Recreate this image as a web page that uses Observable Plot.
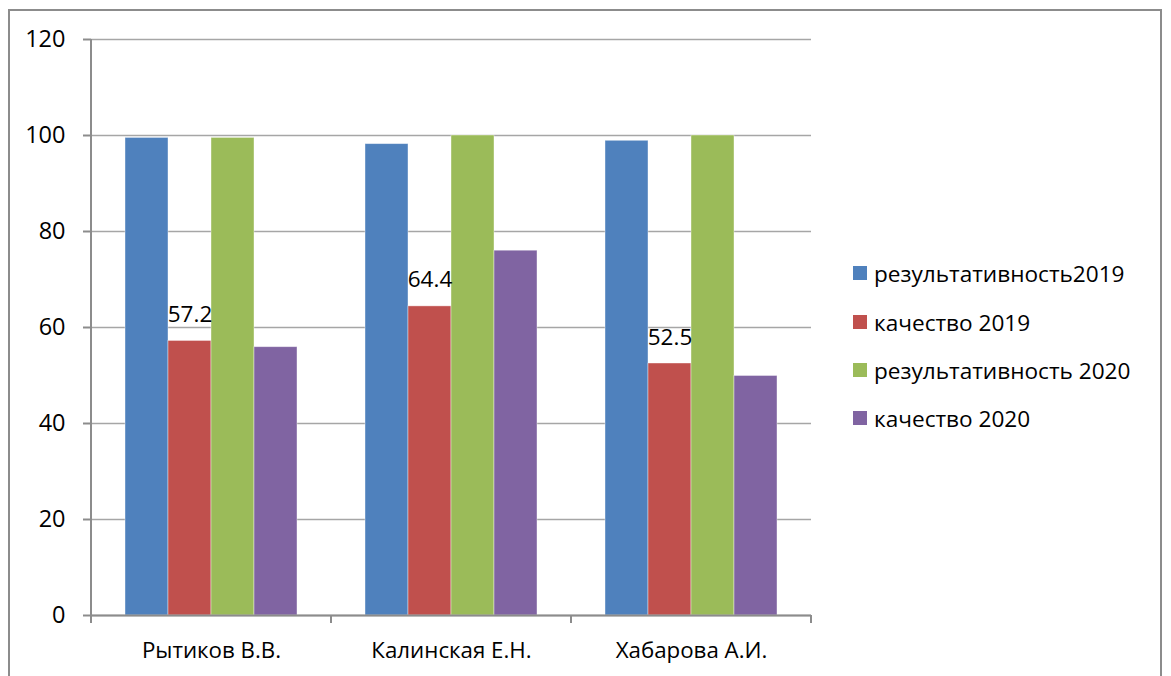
<!DOCTYPE html>
<html>
<head>
<meta charset="utf-8">
<script src="https://cdn.jsdelivr.net/npm/d3@7"></script>
<script src="https://cdn.jsdelivr.net/npm/@observablehq/plot@0.6"></script>
<style>
  html, body { margin: 0; padding: 0; background: #fff; }
  body { width: 1171px; height: 676px; position: relative; overflow: hidden; font-family: "Open Sans", sans-serif; }
  #frame { position: absolute; left: 8px; top: 9px; width: 1154px; height: 700px; border: 2px solid #8c8c8c; box-sizing: border-box; }
  #chart { position: absolute; left: 0; top: 0; }
  #legend { position: absolute; left: 853px; top: 0; }
  .item { position: absolute; left: 0; display: flex; align-items: center; white-space: nowrap; font-size: 22.6px; color: #000; }
  .sw { width: 14px; height: 14px; margin-right: 7px; flex: none; }
</style>
</head>
<body>
<div id="frame"></div>
<div id="chart"></div>
<div id="legend"></div>
<script>
const categories = ["Рытиков В.В.", "Калинская Е.Н.", "Хабарова А.И."];
const seriesNames = ["результативность2019", "качество 2019", "результативность 2020", "качество 2020"];
const seriesColors = ["#4F81BD", "#C0504D", "#9BBB59", "#8064A2"];
const result2019 = [99.5, 98.2, 98.9];
const quality2019 = [57.2, 64.4, 52.5];
const result2020 = [99.5, 100, 100];
const quality2020 = [55.9, 76, 49.9];
const yTicks = [0, 20, 40, 60, 80, 100, 120];
const labeledSeries = ["качество 2019"];

const seriesValues = [result2019, quality2019, result2020, quality2020];
const rows = [];
categories.forEach((c, i) => {
  seriesNames.forEach((s, j) => {
    rows.push({cat: c, series: s, value: seriesValues[j][i]});
  });
});

const FONT = "Open Sans, sans-serif";
const plot = Plot.plot({
  width: 1171,
  height: 676,
  marginLeft: 91,
  marginRight: 360,
  marginTop: 39,
  marginBottom: 61,
  style: {fontFamily: FONT, fontSize: "22px", color: "#000", background: "transparent", overflow: "visible"},
  fx: {domain: categories, padding: 0, label: null},
  x: {domain: seriesNames, paddingInner: 0, paddingOuter: 0.76, axis: null},
  y: {domain: [0, 120], label: null},
  color: {domain: seriesNames, range: seriesColors},
  marks: [
    Plot.gridY(yTicks, {stroke: "#a6a6a6", strokeOpacity: 1, strokeWidth: 1.6}),
    Plot.barY(rows, {fx: "cat", x: "series", y: "value", fill: "series", stroke: "#fff", strokeWidth: 0.8, strokeOpacity: 0.5}),
    Plot.ruleY([0], {stroke: "#8c8c8c", strokeWidth: 2}),
    Plot.text(rows.filter(d => labeledSeries.includes(d.series)), {
      fx: "cat", x: "series", y: "value", text: d => d.value.toFixed(1),
      lineAnchor: "bottom", dy: -19, fontSize: 22.5, fill: "#000"
    }),
    Plot.axisY(yTicks, {tickSize: 8, tickPadding: 18, stroke: "#8c8c8c", strokeWidth: 2, fontSize: 23.5, label: null, tickFormat: d => String(d)}),
    Plot.axisFx({anchor: "bottom", tickSize: 0, tickPadding: 27, fontSize: 22.3, label: null})
  ]
});
document.getElementById("chart").appendChild(plot);

// axis line and category boundary ticks, placed from Plot's own scales
const fx = plot.scale("fx");
const y = plot.scale("y");
const svg = d3.select(plot);
const g = svg.append("g").attr("stroke", "#8c8c8c").attr("stroke-width", 2);
const left = fx.apply(categories[0]);
const y0 = y.apply(0), yTop = y.apply(120);
g.append("line").attr("x1", left).attr("x2", left).attr("y1", yTop).attr("y2", y0 + 8);
const edges = categories.map(c => fx.apply(c)).concat([fx.apply(categories[categories.length - 1]) + fx.bandwidth]);
edges.forEach(e => g.append("line").attr("x1", e).attr("x2", e).attr("y1", y0).attr("y2", y0 + 8));

// legend
const legendRows = [273, 322, 370, 418];
const legend = document.getElementById("legend");
seriesNames.forEach((s, i) => {
  const it = document.createElement("div");
  it.className = "item";
  it.style.top = (legendRows[i] - 15) + "px";
  it.style.height = "30px";
  const sw = document.createElement("span");
  sw.className = "sw";
  sw.style.background = seriesColors[i];
  const tx = document.createElement("span");
  tx.textContent = s;
  it.appendChild(sw); it.appendChild(tx);
  legend.appendChild(it);
});
</script>
</body>
</html>
